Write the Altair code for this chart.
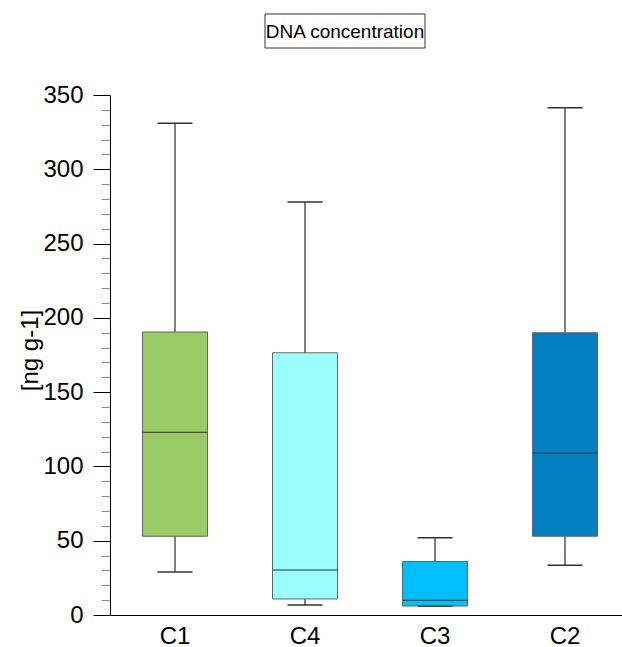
import altair as alt
import pandas as pd

categories = ["C1", "C4", "C3", "C2"]
whisker_low = [29, 6.7, 6, 33.5]
q1 = [53, 10.8, 6, 53]
median = [123, 30.3, 10, 109]
q3 = [190.5, 176.5, 36, 190]
whisker_high = [331, 278, 52, 341.5]
colors = ["#99CC66", "#99FFFF", "#00BFFF", "#0080C0"]
title_text = "DNA concentration"
y_title = "[ng g-1]"
y_ticks = list(range(0, 351, 10))

df = pd.DataFrame({
    "cat": categories,
    "low": whisker_low,
    "q1": q1,
    "med": median,
    "q3": q3,
    "high": whisker_high,
})

FONT = "Liberation Sans"

xscale = alt.Scale(domain=categories, range=[0, 520], paddingInner=0, paddingOuter=0)
yscale = alt.Scale(domain=[0, 350], nice=False, zero=True)

x_axis = alt.Axis(
    title=None, ticks=False, tickSize=0, labelPadding=9, labelFontSize=24,
    labelFont=FONT, labelColor="#000", domainColor="#000", domainWidth=1,
    grid=False, labelAngle=0,
)
y_axis = alt.Axis(
    values=y_ticks,
    labelExpr="datum.value % 50 === 0 ? datum.label : ''",
    labelOverlap=False,
    tickSize={"condition": {"test": "datum.value % 50 === 0", "value": 17}, "value": 9},
    tickColor={"condition": {"test": "datum.value % 50 === 0", "value": "#000"}, "value": "#888"},
    tickWidth=1,
    labelPadding=10,
    labelFontSize=24, labelFont=FONT, labelColor="#000",
    domainColor="#000", domainWidth=1, grid=False,
    title=y_title, titleFont=FONT, titleFontSize=24, titleFontWeight="normal",
    titleColor="#000", titleAngle=270, titleX=-73, titleY=255,
    titleBaseline="alphabetic", titleAlign="center",
)

base = alt.Chart(df)
x_enc = alt.X("cat:N", scale=xscale, axis=x_axis, sort=categories)


def Y(field):
    return alt.Y(field, type="quantitative", scale=yscale, axis=y_axis)


whisk_up = base.mark_rule(color="#000", strokeWidth=1).encode(
    x=x_enc, y=Y("q3"), y2="high:Q")
whisk_dn = base.mark_rule(color="#000", strokeWidth=1).encode(
    x=x_enc, y=Y("low"), y2="q1:Q")
boxes = base.mark_bar(size=65, stroke="#666", strokeWidth=1).encode(
    x=x_enc, y=Y("q1"), y2="q3:Q",
    fill=alt.Fill("cat:N", scale=alt.Scale(domain=categories, range=colors), legend=None),
)
med = base.mark_tick(size=65, thickness=1, color="#333", opacity=1).encode(
    x=x_enc, y=Y("med"))
cap_hi = base.mark_tick(size=35, thickness=1.5, color="#333", opacity=1).encode(
    x=x_enc, y=Y("high"))
cap_lo = base.mark_tick(size=35, thickness=1.5, color="#333", opacity=1).encode(
    x=x_enc, y=Y("low"))

tdf = pd.DataFrame({"t": [title_text]})
tbox = alt.Chart(tdf).mark_rect(fillOpacity=0, stroke="#333", strokeWidth=1).encode(
    x=alt.value(155), x2=alt.value(315), y=alt.value(-81), y2=alt.value(-47))
ttext = alt.Chart(tdf).mark_text(font=FONT, fontSize=19, color="#000",
                                  align="center", baseline="middle").encode(
    x=alt.value(235), y=alt.value(-63), text="t:N")

chart = alt.layer(whisk_up, whisk_dn, boxes, med, cap_hi, cap_lo, tbox, ttext).properties(
    width=512, height=520,
    background="white",
    autosize=alt.AutoSizeParams(type="none"),
    padding={"left": 110, "top": 95, "right": 0, "bottom": 32},
).configure_view(stroke="transparent", strokeWidth=0)

chart.save("out.html", embed_options={"renderer": "svg", "actions": False})
